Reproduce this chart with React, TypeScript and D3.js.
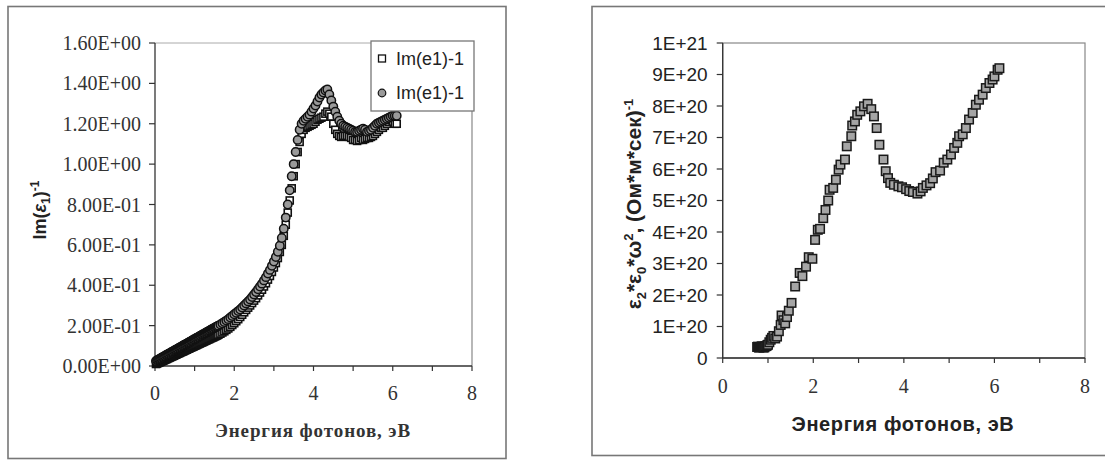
import React from "react";
import * as d3 from "d3";

// ---------- Left chart data: Im(e1)-1 vs photon energy ----------
const leftSquareE = [0.025,0.05,0.075,0.1,0.125,0.15,0.175,0.2,0.225,0.25,0.275,0.3,0.325,0.35,0.375,0.4,0.425,0.45,0.475,0.5,0.525,0.55,0.575,0.6,0.625,0.65,0.675,0.7,0.725,0.75,0.775,0.8,0.825,0.85,0.875,0.9,0.925,0.95,0.975,1.0,1.025,1.05,1.075,1.1,1.125,1.15,1.175,1.2,1.225,1.25,1.275,1.3,1.325,1.35,1.375,1.4,1.425,1.45,1.475,1.5,1.525,1.55,1.575,1.6,1.65,1.7,1.75,1.8,1.85,1.9,1.95,2.0,2.05,2.1,2.15,2.2,2.25,2.3,2.35,2.4,2.45,2.5,2.55,2.6,2.65,2.7,2.75,2.8,2.85,2.9,2.95,3.0,3.05,3.1,3.15,3.2,3.25,3.3,3.35,3.4,3.45,3.5,3.55,3.6,3.65,3.7,3.75,3.8,3.85,3.9,3.95,4.0,4.05,4.1,4.15,4.2,4.25,4.3,4.35,4.4,4.45,4.5,4.55,4.6,4.65,4.7,4.75,4.8,4.85,4.9,4.95,5.0,5.05,5.1,5.15,5.2,5.25,5.3,5.35,5.4,5.45,5.5,5.55,5.6,5.65,5.7,5.75,5.8,5.85,5.9,5.95,6.0,6.05,6.1];
const leftSquareV = [0.01,0.012,0.015,0.017,0.019,0.022,0.024,0.026,0.028,0.031,0.033,0.035,0.038,0.04,0.042,0.045,0.047,0.049,0.051,0.054,0.056,0.058,0.061,0.063,0.065,0.068,0.07,0.072,0.074,0.077,0.079,0.081,0.084,0.086,0.088,0.091,0.093,0.095,0.097,0.1,0.102,0.104,0.107,0.109,0.111,0.114,0.116,0.118,0.12,0.123,0.125,0.127,0.13,0.132,0.134,0.137,0.139,0.141,0.143,0.146,0.148,0.15,0.153,0.155,0.16,0.166,0.172,0.179,0.186,0.194,0.203,0.212,0.222,0.232,0.243,0.254,0.266,0.278,0.289,0.3,0.312,0.324,0.336,0.35,0.364,0.378,0.394,0.41,0.428,0.446,0.466,0.488,0.51,0.535,0.565,0.6,0.645,0.7,0.76,0.82,0.88,0.94,1.0,1.06,1.11,1.15,1.17,1.18,1.185,1.19,1.195,1.2,1.21,1.22,1.225,1.23,1.235,1.25,1.26,1.25,1.235,1.2,1.17,1.15,1.14,1.135,1.14,1.14,1.14,1.135,1.13,1.12,1.12,1.115,1.12,1.13,1.12,1.125,1.13,1.13,1.135,1.14,1.15,1.16,1.17,1.18,1.18,1.19,1.2,1.21,1.22,1.21,1.2,1.2];

const leftCircleE = [0.025,0.05,0.075,0.1,0.125,0.15,0.175,0.2,0.225,0.25,0.275,0.3,0.325,0.35,0.375,0.4,0.425,0.45,0.475,0.5,0.525,0.55,0.575,0.6,0.625,0.65,0.675,0.7,0.725,0.75,0.775,0.8,0.825,0.85,0.875,0.9,0.925,0.95,0.975,1.0,1.025,1.05,1.075,1.1,1.125,1.15,1.175,1.2,1.225,1.25,1.275,1.3,1.325,1.35,1.375,1.4,1.425,1.45,1.475,1.5,1.525,1.55,1.575,1.6,1.65,1.7,1.75,1.8,1.85,1.9,1.95,2.0,2.05,2.1,2.15,2.2,2.25,2.3,2.35,2.4,2.45,2.5,2.55,2.6,2.65,2.7,2.75,2.8,2.85,2.9,2.95,3.0,3.05,3.1,3.15,3.2,3.25,3.3,3.35,3.4,3.45,3.5,3.55,3.6,3.65,3.7,3.75,3.8,3.85,3.9,3.95,4.0,4.05,4.1,4.15,4.2,4.25,4.3,4.35,4.4,4.45,4.5,4.55,4.6,4.65,4.7,4.75,4.8,4.85,4.9,4.95,5.0,5.05,5.1,5.15,5.2,5.25,5.3,5.35,5.4,5.45,5.5,5.55,5.6,5.65,5.7,5.75,5.8,5.85,5.9,5.95,6.0,6.05,6.1];
const leftCircleV = [0.025,0.028,0.031,0.033,0.036,0.039,0.042,0.044,0.047,0.05,0.053,0.056,0.058,0.061,0.064,0.067,0.069,0.072,0.075,0.078,0.081,0.083,0.086,0.089,0.092,0.094,0.097,0.1,0.103,0.106,0.108,0.111,0.114,0.117,0.119,0.122,0.125,0.128,0.131,0.133,0.136,0.139,0.142,0.144,0.147,0.15,0.153,0.156,0.158,0.161,0.164,0.167,0.169,0.172,0.175,0.178,0.181,0.183,0.186,0.189,0.192,0.194,0.197,0.2,0.206,0.212,0.218,0.225,0.232,0.24,0.248,0.256,0.264,0.272,0.28,0.29,0.3,0.31,0.32,0.33,0.342,0.354,0.366,0.38,0.394,0.408,0.424,0.44,0.458,0.476,0.496,0.518,0.54,0.566,0.596,0.634,0.68,0.735,0.8,0.87,0.94,1.0,1.06,1.12,1.17,1.2,1.215,1.225,1.235,1.245,1.26,1.275,1.29,1.31,1.33,1.345,1.355,1.365,1.37,1.345,1.315,1.285,1.26,1.235,1.215,1.2,1.19,1.185,1.18,1.175,1.17,1.165,1.16,1.16,1.165,1.17,1.175,1.17,1.16,1.165,1.17,1.18,1.19,1.2,1.205,1.21,1.215,1.22,1.225,1.23,1.235,1.24,1.24,1.24];

const leftYTicks = [0, 0.2, 0.4, 0.6, 0.8, 1.0, 1.2, 1.4, 1.6];
const leftYTickLabels = ["0.00E+00","2.00E-01","4.00E-01","6.00E-01","8.00E-01","1.00E+00","1.20E+00","1.40E+00","1.60E+00"];
const xMajorTicks = [0, 2, 4, 6, 8];
const xMajorLabels = ["0", "2", "4", "6", "8"];
const xMinorTicks = [1, 3, 5, 7];
const legendLabels = ["Im(e1)-1", "Im(e1)-1"];

// ---------- Right chart data: e2*e0*w^2 vs photon energy ----------
const rightE = [0.76,0.78,0.8,0.82,0.84,0.86,0.88,0.9,0.92,0.94,0.96,0.98,1.0,1.03,1.06,1.09,1.12,1.16,1.2,1.24,1.28,1.3,1.34,1.38,1.42,1.46,1.52,1.6,1.7,1.76,1.84,1.9,1.98,2.04,2.1,2.15,2.22,2.27,2.33,2.36,2.44,2.5,2.56,2.6,2.7,2.74,2.84,2.86,2.92,2.97,3.04,3.12,3.2,3.28,3.34,3.4,3.46,3.55,3.6,3.65,3.7,3.78,3.88,3.96,4.05,4.12,4.2,4.3,4.37,4.42,4.5,4.58,4.64,4.7,4.8,4.88,4.96,5.04,5.11,5.18,5.22,5.3,5.37,5.44,5.52,5.59,5.66,5.74,5.81,5.89,5.96,6.0,6.07,6.11];
const rightV = [0.35,0.36,0.33,0.34,0.35,0.37,0.36,0.33,0.34,0.37,0.38,0.4,0.42,0.5,0.58,0.64,0.7,0.62,0.68,0.85,1.05,1.35,1.2,1.1,1.3,1.5,1.75,2.27,2.7,2.6,2.9,3.2,3.15,3.75,4.07,4.1,4.44,4.7,5.0,5.34,5.4,5.66,5.98,6.14,6.3,6.72,7.04,7.38,7.51,7.72,7.83,7.99,8.07,7.9,7.67,7.3,6.77,6.3,5.93,5.71,5.56,5.5,5.45,5.42,5.36,5.3,5.27,5.22,5.29,5.4,5.48,5.55,5.7,5.9,5.95,6.2,6.3,6.46,6.67,6.83,7.04,7.1,7.3,7.57,7.78,8.04,8.2,8.36,8.57,8.73,8.84,8.94,9.15,9.2]; // units of 1E+20
const rightYTicks = [0,1e20,2e20,3e20,4e20,5e20,6e20,7e20,8e20,9e20,1e21];
const rightYTickLabels = ["0","1E+20","2E+20","3E+20","4E+20","5E+20","6E+20","7E+20","8E+20","9E+20","1E+21"];

const SERIF = "'Liberation Serif', 'Times New Roman', serif";
const SANS = "'Liberation Sans', Arial, sans-serif";

export default function App() {
  const xL = d3.scaleLinear().domain([0, 8]).range([155, 472]);
  const yL = d3.scaleLinear().domain([0, 1.6]).range([366, 43]);
  const xR = d3.scaleLinear().domain([0, 8]).range([722.7, 1085]);
  const yR = d3.scaleLinear().domain([0, 1e21]).range([358, 43]);

  const sq = 7;
  const sqR = 8.5;

  return (
    <svg width={1105} height={465} style={{ position: "absolute", left: 0, top: 0, background: "#fff" }}>
      {/* ===== Left panel ===== */}
      <rect x={8} y={6.5} width={498} height={452} fill="none" stroke="#777" strokeWidth={1.6} />
      <line x1={xL(0)} x2={xL(8)} y1={yL(1.6)} y2={yL(1.6)} stroke="#aaa" strokeWidth={1} />
      <line x1={xL(8)} x2={xL(8)} y1={yL(1.6)} y2={yL(0)} stroke="#888" strokeWidth={1.2} />
      <line x1={xL(0)} x2={xL(0)} y1={yL(1.6)} y2={yL(0)} stroke="#333" strokeWidth={1.3} />
      <line x1={xL(0)} x2={xL(8)} y1={yL(0)} y2={yL(0)} stroke="#333" strokeWidth={1.3} />
      {leftYTicks.map((t, i) => (
        <g key={"lyt" + i}>
          <line x1={xL(0) - 6} x2={xL(0)} y1={yL(t)} y2={yL(t)} stroke="#333" strokeWidth={1.2} />
          <text x={xL(0) - 14} y={yL(t)} dy="0.35em" textAnchor="end" fontFamily={SERIF} fontSize={20} fill="#333">
            {leftYTickLabels[i]}
          </text>
        </g>
      ))}
      {xMajorTicks.map((t, i) => (
        <g key={"lxt" + i}>
          <line x1={xL(t)} x2={xL(t)} y1={yL(0)} y2={yL(0) + 5} stroke="#333" strokeWidth={1.2} />
          <text x={xL(t)} y={393} dy="0.35em" textAnchor="middle" fontFamily={SERIF} fontSize={20} fill="#333">
            {xMajorLabels[i]}
          </text>
        </g>
      ))}
      {xMinorTicks.map((t, i) => (
        <line key={"lxm" + i} x1={xL(t)} x2={xL(t)} y1={yL(0)} y2={yL(0) + 5} stroke="#333" strokeWidth={1.2} />
      ))}
      <text x={313} y={430} dy="0.35em" textAnchor="middle" fontFamily={SERIF} fontWeight="bold" fontSize={19} letterSpacing={0.9} fill="#333">
        Энергия фотонов, эВ
      </text>
      <text transform="translate(40,210) rotate(-90)" textAnchor="middle" fontFamily={SANS} fontWeight="bold" fontSize={18} fill="#222" dy="0.35em">
        Im(<tspan fontStyle="italic">ε</tspan><tspan fontSize={12} dy={4}>1</tspan><tspan dy={-4}>)</tspan><tspan fontSize={12} dy={-7}>-1</tspan>
      </text>
      {leftSquareE.map((e, i) => (
        <rect key={"ls" + i} x={xL(e) - sq / 2} y={yL(leftSquareV[i]) - sq / 2} width={sq} height={sq} fill="#fff" stroke="#111" strokeWidth={1.6} />
      ))}
      {leftCircleE.map((e, i) => (
        <circle key={"lc" + i} cx={xL(e)} cy={yL(leftCircleV[i])} r={4.2} fill="#9a9a9a" stroke="#111" strokeWidth={1.5} />
      ))}
      {/* legend */}
      <rect x={371} y={41} width={103} height={70} fill="#fff" stroke="#777" strokeWidth={1.3} />
      <rect x={378.5} y={55} width={7} height={7} fill="#fff" stroke="#111" strokeWidth={1.3} />
      <text x={396} y={59} dy="0.35em" fontFamily={SANS} fontSize={18} fill="#222">{legendLabels[0]}</text>
      <circle cx={382} cy={93} r={3.8} fill="#9a9a9a" stroke="#111" strokeWidth={1.2} />
      <text x={396} y={93} dy="0.35em" fontFamily={SANS} fontSize={18} fill="#222">{legendLabels[1]}</text>

      {/* ===== Right panel ===== */}
      <rect x={592} y={6.5} width={520} height={449} fill="none" stroke="#777" strokeWidth={1.6} />
      <rect x={xR(0)} y={yR(1e21)} width={xR(8) - xR(0)} height={yR(0) - yR(1e21)} fill="none" stroke="#888" strokeWidth={1.2} />
      <line x1={xR(0)} x2={xR(0)} y1={yR(1e21)} y2={yR(0)} stroke="#333" strokeWidth={1.3} />
      <line x1={xR(0)} x2={xR(8)} y1={yR(0)} y2={yR(0)} stroke="#333" strokeWidth={1.3} />
      {rightYTicks.map((t, i) => (
        <g key={"ryt" + i}>
          <line x1={xR(0) - 6} x2={xR(0)} y1={yR(t)} y2={yR(t)} stroke="#333" strokeWidth={1.2} />
          <text x={xR(0) - 15} y={yR(t)} dy="0.35em" textAnchor="end" fontFamily={SANS} fontSize={19} fill="#222">
            {rightYTickLabels[i]}
          </text>
        </g>
      ))}
      {xMajorTicks.map((t, i) => (
        <g key={"rxt" + i}>
          <line x1={xR(t)} x2={xR(t)} y1={yR(0)} y2={yR(0) + 5} stroke="#333" strokeWidth={1.2} />
          <text x={xR(t)} y={386} dy="0.35em" textAnchor="middle" fontFamily={SERIF} fontSize={20} fill="#333">
            {xMajorLabels[i]}
          </text>
        </g>
      ))}
      {xMinorTicks.map((t, i) => (
        <line key={"rxm" + i} x1={xR(t)} x2={xR(t)} y1={yR(0)} y2={yR(0) + 5} stroke="#333" strokeWidth={1.2} />
      ))}
      <text x={903} y={424} dy="0.35em" textAnchor="middle" fontFamily={SANS} fontWeight="bold" fontSize={20} letterSpacing={0.6} fill="#222">
        Энергия фотонов, эВ
      </text>
      <text transform="translate(634,204) rotate(-90)" textAnchor="middle" fontFamily={SANS} fontWeight="bold" fontSize={21} fill="#222" dy="0.35em">
        ε<tspan fontSize={13} dy={5}>2</tspan><tspan dy={-5}>*ε</tspan><tspan fontSize={13} dy={5}>0</tspan><tspan dy={-5}>*ω</tspan><tspan fontSize={13} dy={-8}>2</tspan><tspan dy={8}>, (Ом*м*сек)</tspan><tspan fontSize={13} dy={-8}>-1</tspan>
      </text>
      {rightE.map((e, i) => (
        <rect key={"rs" + i} x={xR(e) - sqR / 2} y={yR(rightV[i] * 1e20) - sqR / 2} width={sqR} height={sqR} fill="#a5a5a5" stroke="#1a1a1a" strokeWidth={1.5} />
      ))}
    </svg>
  );
}
